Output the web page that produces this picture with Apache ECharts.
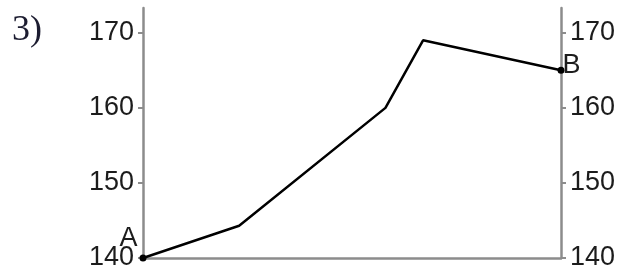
<!DOCTYPE html>
<html>
<head>
<meta charset="utf-8">
<script src="https://cdn.jsdelivr.net/npm/echarts@6/dist/echarts.min.js"></script>
<style>
html,body{margin:0;padding:0;background:#fff;}
#chart{width:623px;height:277px;}
</style>
</head>
<body>
<div id="chart"></div>
<script>
// profile points (x as share of the width, y in metres)
var xPos = [0, 23, 58, 67, 100];
var heights = [140, 144.3, 160, 169, 165];
var pointNames = ['A', '', '', '', 'B'];
var yTicks = [140, 150, 160, 170];

var chart = echarts.init(document.getElementById('chart'));

var axisColor = '#8c8c8c';
var textColor = '#1c1c1c';

var seriesData = [];
for (var i = 0; i < xPos.length; i++) {
	var item = { value: [xPos[i], heights[i]] };
	if (pointNames[i]) {
		item.symbolSize = 7;
		item.label = {
			show: true,
			formatter: pointNames[i],
			position: i == 0 ? [-20, -29] : [5, -15],
			fontSize: 27,
			color: textColor,
			fontFamily: 'Liberation Sans'
		};
	} else {
		item.symbolSize = 0;
	}
	seriesData.push(item);
}

function yAxisCfg(pos) {
	return {
		type: 'value',
		position: pos,
		min: 140,
		max: 173.3,
		interval: 10,
		splitLine: { show: false },
		axisLine: { show: true, lineStyle: { color: axisColor, width: 2.5 } },
		axisTick: { show: true, length: 5, customValues: yTicks, lineStyle: { color: axisColor, width: 2 } },
		axisLabel: {
			customValues: yTicks,
			fontSize: 27,
			color: textColor,
			fontFamily: 'Liberation Sans',
			margin: pos == 'left' ? 9 : 9
		}
	};
}

var option = {
	animation: false,
	backgroundColor: '#fff',
	grid: { left: 143, right: 62, top: 8, bottom: 19 },
	xAxis: {
		type: 'value',
		min: 0,
		max: 100,
		axisLine: { show: true, onZero: false, lineStyle: { color: axisColor, width: 2.5 } },
		axisTick: { show: false },
		axisLabel: { show: false },
		splitLine: { show: false }
	},
	yAxis: [yAxisCfg('left'), yAxisCfg('right')],
	graphic: [{
		type: 'text',
		left: 12,
		top: 13,
		style: {
			text: '3)',
			font: '36px "Liberation Serif"',
			fill: '#1c1c30'
		}
	}],
	series: [{
		type: 'line',
		yAxisIndex: 0,
		data: seriesData,
		symbol: 'circle',
		showSymbol: true,
		itemStyle: { color: '#000' },
		lineStyle: { color: '#000', width: 2.5 },
		z: 5
	}]
};
chart.setOption(option);
</script>
</body>
</html>
